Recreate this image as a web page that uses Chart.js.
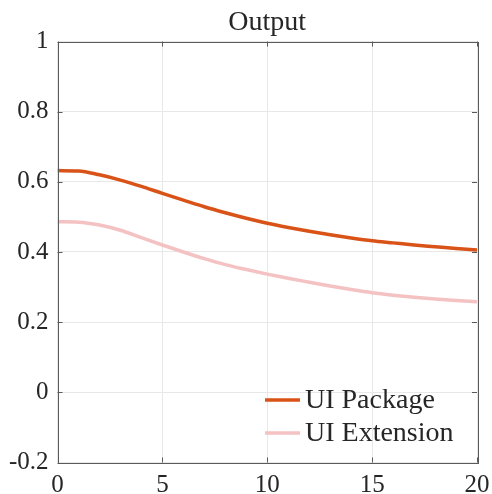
<!DOCTYPE html>
<html>
<head>
<meta charset="utf-8">
<script src="https://cdn.jsdelivr.net/npm/chart.js@4.4.1/dist/chart.umd.min.js"></script>
<style>
  html, body { margin: 0; padding: 0; background: #fff; }
  #wrap { width: 492px; height: 494px; position: relative; }
</style>
</head>
<body>
<div id="wrap"><canvas id="c" width="492" height="494"></canvas></div>
<script>
// Time steps and the two response series
const steps = [0,1,2,3,4,5,6,7,8,9,10,11,12,13,14,15,16,17,18,19,20];
const uiPackage = [0.632,0.631,0.620,0.605,0.587,0.567,0.548,0.529,0.512,0.496,0.482,0.470,0.459,0.449,0.440,0.432,0.426,0.420,0.415,0.410,0.406];
const uiExtension = [0.486,0.485,0.477,0.462,0.441,0.420,0.400,0.381,0.364,0.350,0.337,0.325,0.314,0.303,0.293,0.284,0.277,0.271,0.266,0.262,0.258];
const seriesNames = ['UI Package', 'UI Extension'];
const titleText = 'Output';
const xTicks = [0, 5, 10, 15, 20];
const yTicks = [-0.2, 0, 0.2, 0.4, 0.6, 0.8, 1];

const SERIF = "'Liberation Serif', 'DejaVu Serif', serif";
const TEXT = '#262626';
const AXIS = '#5a5a5a';
const GRID = '#e8e8e8';

// Box around the plot area with short inward tick marks, title over the plot,
// and a frameless legend in the lower right corner
const boxPlugin = {
  id: 'axesBox',
  afterDatasetsDraw(chart) {
    const { ctx, chartArea: a, scales } = chart;
    ctx.save();
    ctx.strokeStyle = AXIS;
    ctx.lineWidth = 1;
    const tl = 5;
    ctx.beginPath();
    xTicks.forEach(v => {
      const x = Math.round(scales.x.getPixelForValue(v)) + 0.5;
      ctx.moveTo(x, a.bottom); ctx.lineTo(x, a.bottom - tl);
      ctx.moveTo(x, a.top); ctx.lineTo(x, a.top + tl);
    });
    yTicks.forEach(v => {
      const y = Math.round(scales.y.getPixelForValue(v)) + 0.5;
      ctx.moveTo(a.left, y); ctx.lineTo(a.left + tl, y);
      ctx.moveTo(a.right, y); ctx.lineTo(a.right - tl, y);
    });
    ctx.stroke();
    ctx.strokeRect(Math.round(a.left) + 0.5, Math.round(a.top) + 0.5,
                   Math.round(a.right - a.left), Math.round(a.bottom - a.top));
    ctx.restore();
  },
  afterDraw(chart) {
    const { ctx, chartArea: a } = chart;
    ctx.save();
    // title, centred over the plot area
    ctx.fillStyle = TEXT;
    ctx.font = '28px ' + SERIF;
    ctx.textAlign = 'center';
    ctx.textBaseline = 'alphabetic';
    ctx.fillText(titleText, (a.left + a.right) / 2, 30);
    // legend
    ctx.font = '28px ' + SERIF;
    ctx.textAlign = 'left';
    chart.data.datasets.forEach((ds, i) => {
      const y = a.bottom - 62.5 + i * 33;
      const x0 = a.left + 207.5;
      ctx.strokeStyle = ds.borderColor;
      ctx.lineWidth = ds.borderWidth;
      ctx.beginPath();
      ctx.moveTo(x0, y); ctx.lineTo(x0 + 35, y);
      ctx.stroke();
      ctx.fillStyle = TEXT;
      ctx.fillText(ds.label, x0 + 40, y + 7.5);
    });
    ctx.restore();
  }
};

new Chart(document.getElementById('c'), {
  type: 'line',
  data: {
    labels: steps,
    datasets: [
      { label: seriesNames[0], data: steps.map((s, i) => ({ x: s, y: uiPackage[i] })),
        borderColor: '#D95319', borderWidth: 3.5, pointRadius: 0, cubicInterpolationMode: 'monotone', fill: false },
      { label: seriesNames[1], data: steps.map((s, i) => ({ x: s, y: uiExtension[i] })),
        borderColor: '#F4C2C2', borderWidth: 3.5, pointRadius: 0, cubicInterpolationMode: 'monotone', fill: false }
    ]
  },
  options: {
    responsive: false,
    animation: false,
    layout: { padding: { top: 41.5, right: 15, bottom: 0, left: 0 } },
    plugins: {
      legend: { display: false },
      tooltip: { enabled: false },
      title: { display: false }
    },
    scales: {
      x: {
        type: 'linear',
        min: 0, max: 20,
        afterBuildTicks(scale) { scale.ticks = xTicks.map(v => ({ value: v })); },
        ticks: { color: TEXT, font: { family: SERIF, size: 25 }, padding: 8, maxRotation: 0,
                 callback: v => String(v) },
        grid: { color: GRID, drawTicks: false, tickLength: 0 },
        border: { display: false },
        afterFit(scale) { scale.height = 31.5; scale.paddingLeft = 0; scale.paddingRight = 0; }
      },
      y: {
        type: 'linear',
        min: -0.2, max: 1,
        afterBuildTicks(scale) { scale.ticks = yTicks.map(v => ({ value: v })); },
        ticks: { color: TEXT, font: { family: SERIF, size: 25 }, padding: 9,
                 callback: v => String(parseFloat(Number(v).toFixed(1))) },
        grid: { color: GRID, drawTicks: false, tickLength: 0 },
        border: { display: false },
        afterFit(scale) { scale.width = 57.5; scale.paddingTop = 0; scale.paddingBottom = 0; }
      }
    }
  },
  plugins: [boxPlugin]
});
</script>
</body>
</html>
